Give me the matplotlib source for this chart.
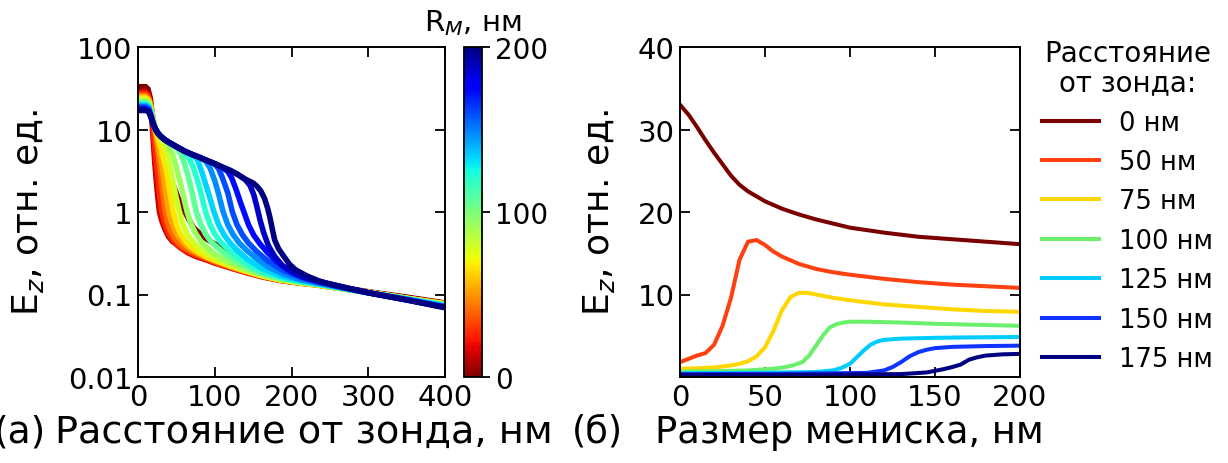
import matplotlib
matplotlib.use('Agg')
import matplotlib.pyplot as plt
from matplotlib.colors import Normalize
from matplotlib.cm import ScalarMappable

plt.rcParams['font.family'] = ['DejaVu Sans']

# ---------------- (а) E_z vs distance, one curve per meniscus radius ----------------
r_m_nm = [0, 13, 27, 40, 53, 67, 80, 93, 107, 120, 133, 147, 160, 173, 187, 200]

dist_r00 = [0, 10, 13, 16, 19, 22, 26, 30, 38, 46, 52, 60, 72, 85, 100, 115, 129, 145, 165, 190, 215, 240, 270, 300, 350, 400]
ez_r00 = [33, 33, 31, 24, 14, 8.5, 5.5, 4.3, 3.0, 2.1, 1.5, 1.05, 0.65, 0.5, 0.41, 0.35, 0.3, 0.245, 0.2, 0.168, 0.148, 0.134, 0.12, 0.108, 0.093, 0.079]

dist_r01 = [0, 10, 13, 16, 18, 20, 22, 24, 26, 28, 31, 35, 40, 45, 55, 65, 75, 90, 100, 120, 140, 160, 185, 210, 230, 260, 300, 350, 400]
ez_r01 = [29, 29, 27.5, 21, 13, 7, 3.8, 2.3, 1.45, 1.0, 0.78, 0.62, 0.5, 0.44, 0.37, 0.32, 0.29, 0.26, 0.24, 0.21, 0.185, 0.165, 0.148, 0.138, 0.132, 0.12, 0.107, 0.091, 0.078]

dist_r02 = [0, 10, 13, 16, 18, 20, 22, 25, 28, 31, 34, 38, 43, 49, 56, 65, 75, 90, 100, 120, 140, 160, 185, 210, 230, 260, 300, 350, 400]
ez_r02 = [27.5, 27.5, 26, 21, 15, 9.5, 6, 3.2, 1.7, 1.0, 0.76, 0.6, 0.49, 0.42, 0.37, 0.33, 0.3, 0.265, 0.245, 0.213, 0.187, 0.166, 0.149, 0.138, 0.132, 0.12, 0.107, 0.09, 0.078]

dist_r03 = [0, 10, 14, 17, 20, 23, 26, 29, 32, 35, 38, 42, 47, 53, 60, 70, 80, 90, 100, 120, 140, 160, 185, 210, 230, 260, 300, 350, 400]
ez_r03 = [26, 26, 24, 19, 13, 8.5, 5.3, 3.2, 1.8, 1.05, 0.78, 0.6, 0.49, 0.42, 0.37, 0.33, 0.3, 0.275, 0.25, 0.216, 0.19, 0.168, 0.15, 0.139, 0.132, 0.12, 0.107, 0.09, 0.077]

dist_r04 = [0, 10, 14, 17, 20, 23, 26, 30, 34, 37, 40, 44, 49, 55, 62, 70, 80, 90, 100, 120, 140, 160, 185, 210, 230, 260, 300, 350, 400]
ez_r04 = [25, 25, 23, 18.5, 13, 9.3, 6.8, 4.2, 2.4, 1.5, 1.0, 0.74, 0.57, 0.47, 0.4, 0.35, 0.31, 0.28, 0.26, 0.22, 0.192, 0.169, 0.15, 0.139, 0.132, 0.12, 0.106, 0.09, 0.077]

dist_r05 = [0, 10, 14, 17, 20, 23, 26, 30, 34, 38, 42, 46, 50, 55, 62, 70, 80, 90, 100, 120, 140, 160, 185, 210, 230, 260, 300, 350, 400]
ez_r05 = [24, 24, 22, 17.5, 12.8, 10, 8.0, 6.0, 4.2, 2.8, 1.65, 1.0, 0.72, 0.55, 0.44, 0.37, 0.32, 0.285, 0.26, 0.222, 0.193, 0.17, 0.151, 0.139, 0.132, 0.12, 0.106, 0.09, 0.077]

dist_r06 = [0, 10, 14, 17, 20, 23, 26, 30, 34, 38, 42, 46, 50, 54, 58, 63, 70, 80, 90, 100, 120, 140, 160, 185, 210, 230, 260, 300, 350, 400]
ez_r06 = [23, 23, 21.5, 17, 12.5, 10, 8.7, 7.7, 6.4, 4.9, 3.4, 2.2, 1.45, 1.0, 0.74, 0.57, 0.45, 0.36, 0.31, 0.275, 0.23, 0.196, 0.171, 0.152, 0.14, 0.133, 0.12, 0.106, 0.09, 0.076]

dist_r07 = [0, 10, 14, 17, 20, 23, 26, 30, 35, 40, 45, 50, 55, 60, 64, 69, 75, 82, 90, 100, 120, 140, 160, 185, 210, 230, 260, 300, 350, 400]
ez_r07 = [22, 22, 20.5, 16.5, 12.3, 10, 9.0, 8.2, 7.4, 6.5, 5.1, 3.5, 2.3, 1.45, 1.0, 0.72, 0.55, 0.44, 0.37, 0.31, 0.245, 0.205, 0.176, 0.154, 0.141, 0.134, 0.121, 0.106, 0.089, 0.076]

dist_r08 = [0, 10, 14, 17, 20, 23, 26, 30, 35, 40, 45, 50, 55, 60, 65, 70, 76, 82, 88, 95, 105, 120, 140, 160, 185, 210, 230, 260, 300, 350, 400]
ez_r08 = [21.2, 21.2, 19.8, 16, 12, 10, 9, 8.2, 7.5, 7.0, 6.6, 6.1, 5.2, 4.0, 2.8, 1.8, 1.0, 0.7, 0.54, 0.44, 0.36, 0.28, 0.22, 0.185, 0.158, 0.143, 0.135, 0.121, 0.105, 0.089, 0.075]

dist_r09 = [0, 10, 14, 17, 20, 23, 26, 30, 35, 40, 45, 50, 55, 60, 66, 72, 77, 82, 88, 94, 100, 108, 118, 130, 145, 160, 185, 210, 230, 260, 300, 350, 400]
ez_r09 = [20.4, 20.4, 19.2, 15.6, 11.8, 10, 9, 8.2, 7.5, 7.0, 6.6, 6.2, 5.85, 5.4, 4.6, 3.5, 2.5, 1.7, 1.0, 0.7, 0.54, 0.43, 0.35, 0.28, 0.225, 0.19, 0.162, 0.145, 0.136, 0.122, 0.105, 0.088, 0.074]

dist_r10 = [0, 10, 14, 17, 20, 23, 26, 30, 35, 40, 50, 60, 70, 77, 83, 88, 93, 99, 105, 112, 120, 130, 142, 160, 185, 210, 230, 260, 300, 350, 400]
ez_r10 = [19.8, 19.8, 18.7, 15.2, 11.7, 10, 9, 8.2, 7.5, 7.0, 6.2, 5.5, 4.95, 4.4, 3.1, 2.2, 1.55, 1.0, 0.7, 0.53, 0.42, 0.34, 0.27, 0.21, 0.168, 0.148, 0.137, 0.123, 0.105, 0.088, 0.073]

dist_r11 = [0, 10, 14, 17, 20, 23, 26, 30, 35, 40, 50, 60, 70, 80, 88, 94, 100, 105, 111, 117, 124, 132, 142, 155, 170, 190, 210, 230, 260, 300, 350, 400]
ez_r11 = [19.2, 19.2, 18.2, 14.8, 11.6, 10, 9, 8.2, 7.5, 7.0, 6.2, 5.5, 5.0, 4.6, 4.15, 3.4, 2.4, 1.65, 1.0, 0.7, 0.53, 0.42, 0.34, 0.27, 0.215, 0.175, 0.153, 0.14, 0.124, 0.105, 0.087, 0.072]

dist_r12 = [0, 10, 14, 17, 20, 23, 26, 30, 35, 40, 50, 60, 70, 80, 90, 100, 105, 110, 117, 123, 129, 136, 144, 155, 168, 185, 200, 215, 230, 260, 300, 350, 400]
ez_r12 = [18.6, 18.6, 17.6, 14.5, 11.5, 10, 9, 8.2, 7.5, 7.0, 6.2, 5.5, 5.0, 4.6, 4.2, 3.8, 3.35, 2.6, 1.7, 1.0, 0.7, 0.53, 0.42, 0.33, 0.26, 0.205, 0.176, 0.157, 0.144, 0.125, 0.105, 0.087, 0.071]

dist_r13 = [0, 10, 14, 17, 20, 23, 26, 30, 35, 40, 50, 60, 70, 80, 90, 100, 110, 117, 122, 128, 133, 138, 144, 151, 159, 169, 181, 195, 210, 230, 260, 300, 350, 400]
ez_r13 = [18.0, 18.0, 17.1, 14.3, 11.5, 10, 9, 8.2, 7.5, 7.0, 6.2, 5.5, 5.0, 4.6, 4.2, 3.85, 3.45, 3.1, 2.6, 1.85, 1.35, 1.0, 0.7, 0.52, 0.41, 0.32, 0.25, 0.2, 0.17, 0.149, 0.127, 0.105, 0.086, 0.07]

dist_r14 = [0, 10, 14, 17, 20, 23, 26, 30, 35, 40, 50, 60, 70, 80, 90, 100, 110, 120, 130, 140, 146, 151, 155, 159, 164, 170, 178, 188, 200, 215, 235, 260, 300, 350, 400]
ez_r14 = [17.5, 17.5, 16.7, 14.1, 11.5, 10, 9, 8.2, 7.5, 7.0, 6.2, 5.5, 5.0, 4.6, 4.2, 3.85, 3.5, 3.2, 2.85, 2.45, 2.1, 1.6, 1.15, 0.8, 0.55, 0.39, 0.29, 0.225, 0.188, 0.162, 0.144, 0.128, 0.105, 0.086, 0.07]

dist_r15 = [0, 10, 14, 17, 20, 23, 26, 30, 35, 40, 50, 60, 70, 80, 90, 100, 110, 120, 130, 140, 150, 155, 160, 165, 169, 172, 175, 178, 183, 190, 197, 205, 220, 235, 250, 275, 300, 350, 400]
ez_r15 = [17.0, 17.0, 16.3, 14.0, 11.5, 10, 9, 8.2, 7.5, 7.0, 6.2, 5.5, 5.0, 4.6, 4.2, 3.85, 3.5, 3.2, 2.85, 2.5, 2.25, 2.05, 1.8, 1.45, 1.1, 0.85, 0.62, 0.46, 0.36, 0.29, 0.235, 0.2, 0.168, 0.147, 0.133, 0.118, 0.105, 0.086, 0.069]

dist_curves = [dist_r00, dist_r01, dist_r02, dist_r03, dist_r04, dist_r05, dist_r06, dist_r07,
               dist_r08, dist_r09, dist_r10, dist_r11, dist_r12, dist_r13, dist_r14, dist_r15]
ez_curves = [ez_r00, ez_r01, ez_r02, ez_r03, ez_r04, ez_r05, ez_r06, ez_r07,
             ez_r08, ez_r09, ez_r10, ez_r11, ez_r12, ez_r13, ez_r14, ez_r15]

log_ticks = [0.01, 0.1, 1, 10, 100]
log_tick_labels = ['0.01', '0.1', '1', '10', '100']

# ---------------- (б) E_z vs meniscus size, one curve per distance ----------------
legend_labels = ['0 нм', '50 нм', '75 нм', '100 нм', '125 нм', '150 нм', '175 нм']
legend_colors = ['#7a0000', '#ff4010', '#ffd700', '#6cf06c', '#00ccff', '#1034ff', '#000080']

men_d000 = [0, 5, 10, 15, 20, 25, 30, 35, 40, 50, 60, 70, 80, 90, 100, 120, 140, 160, 180, 200]
ez_d000 = [33, 31.8, 30.3, 28.7, 27.2, 25.8, 24.4, 23.3, 22.5, 21.3, 20.4, 19.7, 19.1, 18.6, 18.1, 17.5, 17.0, 16.7, 16.4, 16.1]

men_d050 = [0, 5, 10, 15, 20, 25, 30, 35, 40, 45, 50, 55, 60, 70, 80, 90, 100, 120, 140, 160, 180, 200]
ez_d050 = [1.8, 2.2, 2.6, 2.9, 3.9, 6.2, 9.6, 14.2, 16.4, 16.6, 16.0, 15.2, 14.6, 13.7, 13.1, 12.7, 12.4, 11.9, 11.5, 11.2, 11.0, 10.8]

men_d075 = [0, 10, 20, 30, 35, 40, 45, 50, 55, 60, 65, 70, 75, 80, 90, 100, 120, 140, 160, 180, 200]
ez_d075 = [1.0, 1.05, 1.15, 1.4, 1.6, 1.9, 2.5, 3.6, 5.6, 8.1, 9.7, 10.2, 10.2, 10.0, 9.6, 9.3, 8.8, 8.5, 8.2, 8.0, 7.9]

men_d100 = [0, 20, 40, 55, 62, 67, 72, 76, 80, 84, 88, 92, 96, 100, 110, 130, 150, 170, 200]
ez_d100 = [0.65, 0.7, 0.8, 1.0, 1.2, 1.45, 1.8, 2.6, 3.8, 5.0, 6.0, 6.4, 6.6, 6.7, 6.7, 6.6, 6.45, 6.35, 6.2]

men_d125 = [0, 40, 80, 90, 95, 100, 104, 108, 112, 116, 120, 130, 150, 170, 200]
ez_d125 = [0.45, 0.5, 0.6, 0.8, 1.1, 1.6, 2.4, 3.2, 3.9, 4.3, 4.5, 4.65, 4.75, 4.8, 4.85]

men_d150 = [0, 60, 110, 120, 125, 130, 135, 140, 145, 150, 160, 180, 200]
ez_d150 = [0.35, 0.38, 0.5, 0.8, 1.2, 1.8, 2.5, 3.0, 3.3, 3.5, 3.65, 3.75, 3.8]

men_d175 = [0, 80, 130, 145, 150, 155, 160, 165, 170, 175, 180, 190, 200]
ez_d175 = [0.25, 0.28, 0.35, 0.55, 0.75, 0.95, 1.2, 1.5, 2.1, 2.4, 2.6, 2.75, 2.8]

men_curves = [men_d000, men_d050, men_d075, men_d100, men_d125, men_d150, men_d175]
ez_men_curves = [ez_d000, ez_d050, ez_d075, ez_d100, ez_d125, ez_d150, ez_d175]


def style_axes(ax):
    ax.tick_params(which='both', direction='in', top=True, right=True,
                   length=7, width=1.3, labelsize=21, pad=4)
    for sp in ax.spines.values():
        sp.set_linewidth(1.4)


fig = plt.figure(figsize=(12.28, 4.64), dpi=100)

# панель (а)
ax1 = fig.add_axes([138 / 1228, 1 - 378 / 464, 307 / 1228, 330 / 464])
cmap = plt.get_cmap('jet_r')
norm = Normalize(vmin=0, vmax=200)
for r, xs, ys in zip(r_m_nm, dist_curves, ez_curves):
    ax1.plot(xs, ys, color=cmap(norm(r)), lw=4.0, solid_capstyle='butt')
ax1.set_yscale('log')
ax1.set_xlim(0, 400)
ax1.set_ylim(0.01, 100)
ax1.set_yticks(log_ticks)
ax1.set_yticklabels(log_tick_labels)
ax1.minorticks_off()
ax1.set_xticks([0, 100, 200, 300, 400])
style_axes(ax1)
ax1.set_ylabel('E$_z$, отн. ед.', fontsize=26)
ax1.yaxis.set_label_coords(-0.30, 0.5)

# шкала цвета
cax = fig.add_axes([464 / 1228, 1 - 378 / 464, 18 / 1228, 330 / 464])
sm = ScalarMappable(norm=norm, cmap=cmap)
cbar = fig.colorbar(sm, cax=cax, ticks=[0, 100, 200])
cbar.ax.tick_params(labelsize=20, length=6, width=1.3)
cbar.outline.set_linewidth(1.3)
cbar.ax.set_title('R$_M$, нм', fontsize=21, pad=12)

# панель (б)
ax2 = fig.add_axes([680 / 1228, 1 - 378 / 464, 340 / 1228, 330 / 464])
for lab, col, xs, ys in zip(legend_labels, legend_colors, men_curves, ez_men_curves):
    ax2.plot(xs, ys, color=col, lw=2.9, label=lab)
ax2.set_xlim(0, 200)
ax2.set_ylim(0, 40)
ax2.set_xticks([0, 50, 100, 150, 200])
ax2.set_yticks([10, 20, 30, 40])
style_axes(ax2)
ax2.set_ylabel('E$_z$, отн. ед.', fontsize=26)
ax2.yaxis.set_label_coords(-0.185, 0.5)

leg = ax2.legend(title='Расстояние\nот зонда:', loc='upper left',
                 bbox_to_anchor=(1032 / 1228, 1 - 30 / 464), bbox_transform=fig.transFigure,
                 frameon=False, fontsize=18.5, title_fontsize=20, handlelength=2.2,
                 handletextpad=0.78, labelspacing=0.52, borderaxespad=0)
leg.get_title().set_multialignment('center')
leg.get_title().set_linespacing(1.05)

# подписи осей x
fig.text(46 / 1228, 0.068, '(а)', fontsize=27, ha='right', va='center')
fig.text(55 / 1228, 0.068, 'Расстояние от зонда, нм', fontsize=27.5, ha='left', va='center')
fig.text(572 / 1228, 0.068, '(б)', fontsize=26.5, ha='left', va='center')
fig.text(655 / 1228, 0.068, 'Размер мениска, нм', fontsize=26.5, ha='left', va='center')

fig.savefig('out.png', dpi=100)
